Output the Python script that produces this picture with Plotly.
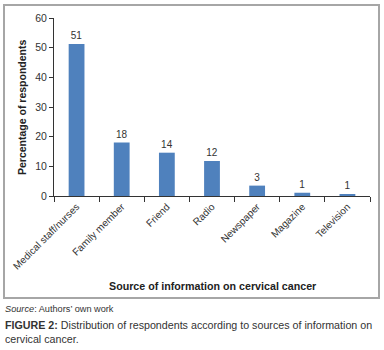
import plotly.graph_objects as go

categories = ["Medical staff/nurses", "Family member", "Friend", "Radio", "Newspaper", "Magazine", "Television"]
values = [51.2, 18.0, 14.6, 11.8, 3.5, 1.1, 0.4]
labels = ["51", "18", "14", "12", "3", "1", "1"]
y_ticks = [0, 10, 20, 30, 40, 50, 60]

FONT = "Liberation Sans"
W, H = 384, 350
L, R, T, B = 54, 14, 18, 154
pw, ph = W - L - R, H - T - B

def px(x):
    return (x - L) / pw

def py(y):
    return (H - B - y) / ph

fig = go.Figure(go.Bar(
    x=categories, y=values, text=labels, textposition="outside",
    textfont=dict(size=10, color="#333333", family=FONT),
    marker=dict(color="#4f81bd", line=dict(width=0)),
    cliponaxis=False, hoverinfo="skip",
))

fig.update_layout(
    width=W, height=H, margin=dict(l=L, r=R, t=T, b=B, autoexpand=False),
    paper_bgcolor="white", plot_bgcolor="white",
    bargap=0.65, showlegend=False,
    font=dict(family=FONT, color="#333333"),
    xaxis=dict(
        tickangle=-45, tickson="boundaries", ticks="outside", ticklen=5,
        tickcolor="#333333", showline=True, linecolor="#333333", linewidth=1,
        tickfont=dict(size=10, color="#333333"), automargin=False,
    ),
    yaxis=dict(
        range=[0, 60], tickvals=y_ticks, ticks="outside", ticklen=4,
        tickcolor="#333333", showline=True, linecolor="#333333", linewidth=1,
        showgrid=False, zeroline=False, automargin=False,
        tickfont=dict(size=10.5, color="#333333"),
    ),
)

fig.add_shape(type="rect", xref="paper", yref="paper",
              x0=px(4), x1=px(379), y0=py(298), y1=py(5),
              line=dict(color="#a6a6a6", width=2), fillcolor="rgba(0,0,0,0)", layer="below")

fig.add_annotation(xref="paper", yref="paper", x=px(212), y=py(286), xanchor="center", yanchor="middle",
                   text="<b>Source of information on cervical cancer</b>", showarrow=False,
                   font=dict(size=10.7, color="#222222", family=FONT))
fig.add_annotation(xref="paper", yref="paper", x=px(22), y=py(107), xanchor="center", yanchor="middle",
                   text="<b>Percentage of respondents</b>", showarrow=False, textangle=-90,
                   font=dict(size=10.5, color="#222222", family=FONT))

fig.add_annotation(xref="paper", yref="paper", x=px(3), y=py(309), xanchor="left", yanchor="middle",
                   text="<i>Source</i>: Authors’ own work", showarrow=False,
                   font=dict(size=9.2, color="#333333", family=FONT))
fig.add_annotation(xref="paper", yref="paper", x=px(3), y=py(332), xanchor="left", yanchor="middle",
                   align="left",
                   text="<b>FIGURE 2:</b> Distribution of respondents according to sources of information on<br>cervical cancer.",
                   showarrow=False, font=dict(size=10.7, color="#333333", family=FONT))

fig.write_html("out.html", config={"displayModeBar": False},
               post_script="document.body.style.margin='0';document.body.style.overflow='hidden';")
